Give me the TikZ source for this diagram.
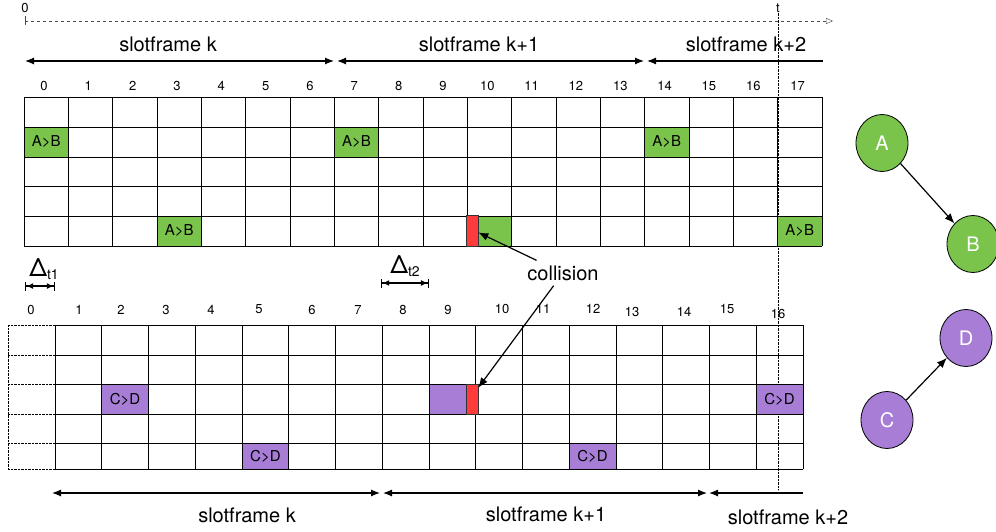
\documentclass[tikz,border=0pt]{standalone}
\usepackage{fontspec}
\setmainfont{TeX Gyre Heros}
\usetikzlibrary{arrows.meta,shapes.geometric,positioning,calc}
\definecolor{cellgreen}{RGB}{122,196,76}
\definecolor{cellpurple}{RGB}{167,125,214}
\definecolor{cellred}{RGB}{255,59,59}

\begin{document}
\begin{tikzpicture}[x=1pt,y=-1pt,
    num/.style={font=\fontsize{13}{15}\selectfont,inner sep=0pt},
    sflabel/.style={font=\fontsize{20}{24}\selectfont,inner sep=0pt},
    sfarrow/.style={{Latex[length=9pt,width=7pt]}-{Latex[length=9pt,width=7pt]},line width=1.2pt},
    sfstart/.style={{Latex[length=9pt,width=7pt]}-,line width=1.2pt},
    bararrow/.style={{Bar[width=9pt]Latex[length=7pt,width=6pt]}-{Latex[length=7pt,width=6pt]Bar[width=9pt]},line width=1.2pt},
    gridline/.style={line width=0.8pt},
    abcell/.style={fill=cellgreen,inner sep=0pt,minimum height=29.8pt,font=\fontsize{15}{17}\selectfont},
    cdcell/.style={fill=cellpurple,inner sep=0pt,font=\fontsize{15}{17}\selectfont},
    redcell/.style={fill=cellred,draw=black!80,line width=0.6pt,inner sep=0pt,minimum width=12pt},
    mote/.style={draw,ellipse,line width=0.8pt,minimum width=52pt,minimum height=57pt,text=white,font=\fontsize{20}{22}\selectfont}
  ]
  \useasboundingbox (0,0) rectangle (996,532);

  % time axis
  \node[num] (zero) at (25,8) {0};
  \node[num] (tlab) at (778,8) {t};
  \coordinate (t0) at (25,21);
  \coordinate (tend) at (833,21);
  \draw[dashed,black!70,-{Triangle[open,length=7pt,width=6pt]}] (t0) -- (tend);
  \draw[black!70] (25,16) -- (25,25);
  \coordinate (tdown) at (778,490);
  \draw[densely dotted] (tlab.south) -- (tdown);

  % slotframes, first schedule
  \coordinate (s0) at (25,61);
  \coordinate (s1) at (334,61);
  \coordinate (s1b) at (337,61);
  \coordinate (s2) at (644,61);
  \coordinate (s2b) at (647,61);
  \coordinate (s3) at (823,61);
  \draw[sfarrow] (s0) -- (s1);
  \draw[sfarrow] (s1b) -- (s2);
  \draw[sfstart] (s2b) -- (s3);
  \node[sflabel] (sfk) at (168,44) {slotframe k};
  \node[sflabel] (sfk1) at (479,44) {slotframe k+1};
  \node[sflabel] (sfk2) at (746,44) {slotframe k+2};

  \foreach \i in {0,...,17}
    \node[num] (ta\i) at (44+44.33*\i,86) {\i};

  % A>B cells
  \node[abcell,minimum width=44.3pt] (ab1) at (46.2,142) {A>B};
  \node[abcell,minimum width=44.3pt] (ab2) at (356.5,142) {A>B};
  \node[abcell,minimum width=44.3pt] (ab3) at (666.8,142) {A>B};
  \node[abcell,minimum width=44.3pt] (ab4) at (179.2,231) {A>B};
  \node[abcell,minimum width=44.3pt] (ab5) at (799.8,231) {A>B};
  \node[abcell,minimum width=34pt] (ab6) at (495,231) {};

  \foreach \i in {0,...,18}
    \draw[gridline] (24+44.33*\i,97) -- (24+44.33*\i,246);
  \foreach \y in {97,127,157,186.5,216,246}
    \draw[gridline] (24,\y) -- (822,\y);
  \node[redcell,minimum height=31pt] (redA) at (472,230.5) {};

  % offsets
  \node[inner sep=0pt] (dt1) at (44,269) {\fontsize{25}{26}\selectfont Δ\raisebox{-3pt}{\fontsize{14}{15}\selectfont t1}};
  \coordinate (d1a) at (25,286);
  \coordinate (d1b) at (55,286);
  \draw[bararrow] (d1a) -- (d1b);
  \node[inner sep=0pt] (dt2) at (405,266) {\fontsize{25}{26}\selectfont Δ\raisebox{-3pt}{\fontsize{14}{15}\selectfont t2}};
  \coordinate (d2a) at (381,283);
  \coordinate (d2b) at (429,283);
  \draw[bararrow] (d2a) -- (d2b);

  % second schedule
  \foreach \n/\x/\y in {0/31/310,1/79/310,2/121/310,3/166/310,4/211/310,5/259/309,6/312/310,7/358/310,8/403/310,9/448/310,10/502/309,11/543/309,12/593/309,13/632/312,14/684/312,15/727/309,16/778/314}
    \node[num] (tb\n) at (\x,\y) {\n};

  \node[cdcell,minimum width=46.75pt,minimum height=30pt] (cd1) at (125.1,399) {C>D};
  \node[cdcell,minimum width=37pt,minimum height=30pt] (cd2) at (447.5,399) {};
  \node[cdcell,minimum width=46.75pt,minimum height=30pt] (cd3) at (779.6,399) {C>D};
  \node[cdcell,minimum width=46.75pt,minimum height=26pt] (cd4) at (265.4,456) {C>D};
  \node[cdcell,minimum width=46.75pt,minimum height=26pt] (cd5) at (592.6,456) {C>D};

  \foreach \i in {0,...,16}
    \draw[gridline] (55+46.75*\i,325) -- (55+46.75*\i,469);
  \foreach \y in {325,355,384,414,443,469} {
    \draw[gridline] (55,\y) -- (803,\y);
    \draw[densely dotted] (8,\y) -- (55,\y);
  }
  \draw[densely dotted] (8,325) -- (8,469);
  \node[redcell,minimum height=30pt] (redC) at (472,399) {};

  % slotframes, second schedule
  \coordinate (b0) at (52,493);
  \coordinate (b1) at (380,493);
  \coordinate (b1b) at (383,493);
  \coordinate (b2) at (707,493);
  \coordinate (b2b) at (709,493);
  \coordinate (b3) at (803,493);
  \draw[sfarrow] (b0) -- (b1);
  \draw[sfarrow] (b1b) -- (b2);
  \draw[sfstart] (b2b) -- (b3);
  \node[sflabel] (bfk) at (247,515) {slotframe k};
  \node[sflabel] (bfk1) at (546,514) {slotframe k+1};
  \node[sflabel] (bfk2) at (788,517) {slotframe k+2};

  % collision
  \node[sflabel,inner sep=5pt] (coll) at (563,273) {collision};
  \draw[-{Latex[length=10pt,width=8pt]},line width=1.2pt] (coll) -- ($(redA.east)+(0,2)$);
  \draw[-{Latex[length=10pt,width=8pt]},line width=1.2pt] (coll) -- ($(redC.north east)+(0,4)$);

  % nodes
  \node[mote,fill=cellgreen] (A) at (882,143) {A};
  \node[mote,fill=cellgreen] (B) at (973,244) {B};
  \node[mote,fill=cellpurple] (D) at (966,338) {D};
  \node[mote,fill=cellpurple] (C) at (887,420) {C};
  \draw[-{Latex[length=10pt,width=8pt]},line width=1.2pt] (A) -- (B);
  \draw[-{Latex[length=10pt,width=8pt]},line width=1.2pt] (C) -- (D);
\end{tikzpicture}
\end{document}
